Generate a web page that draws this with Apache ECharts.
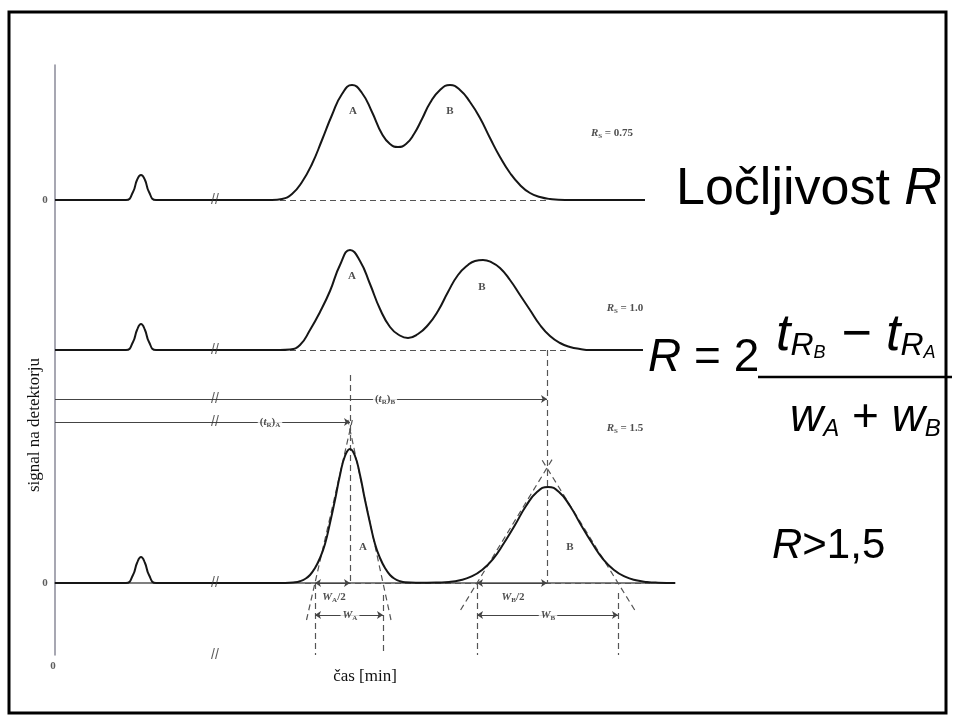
<!DOCTYPE html>
<html><head><meta charset="utf-8">
<script src="https://cdn.jsdelivr.net/npm/echarts@6/dist/echarts.min.js"></script>
<style>html,body{margin:0;padding:0;background:#fff}#c{width:954px;height:722px}</style>
</head><body><div id="c"></div>
<script>
const SERIF = "'Liberation Serif','DejaVu Serif',serif";
const SANS = "'Liberation Sans',Arial,Helvetica,sans-serif";

// ---- trace values (time units, signal above each trace's own baseline) ----
const topTime   = [0, 7.1, 7.8, 8.2, 8.6, 9.0, 9.4, 10.1, 21.7, 22.7, 23.7, 24.7, 25.7, 26.7, 27.7, 28.7, 29.7, 30.7, 31.7, 32.7, 33.5, 34.3, 35.1, 35.9, 36.7, 37.5, 38.5, 39.5, 40.5, 41.5, 42.5, 43.5, 44.5, 45.5, 46.5, 47.5, 48.5, 49.5, 51.0, 59.0];
const topSignal = [0, 0, 0.8, 2.0, 2.5, 2.0, 0.8, 0, 0, 0.1, 0.6, 1.8, 3.6, 6.0, 8.5, 10.6, 11.5, 10.7, 8.8, 6.6, 5.6, 5.3, 5.6, 6.6, 8.1, 9.7, 11.0, 11.5, 11.0, 9.8, 8.2, 6.2, 4.3, 2.7, 1.5, 0.7, 0.3, 0.1, 0, 0];
const midTime   = [0, 7.1, 7.8, 8.2, 8.6, 9.0, 9.4, 10.1, 22.5, 23.5, 24.5, 25.5, 26.5, 27.5, 28.5, 29.5, 30.5, 31.5, 32.5, 33.5, 34.4, 35.3, 36.3, 37.3, 38.3, 39.3, 40.3, 41.3, 42.0, 42.8, 43.6, 44.5, 45.5, 46.5, 47.5, 48.5, 49.5, 50.5, 51.5, 52.5, 53.5, 58.8];
const midSignal = [0, 0, 0.8, 2.0, 2.6, 2.0, 0.8, 0, 0, 0.05, 0.5, 2.0, 3.8, 5.9, 8.5, 10.0, 8.9, 6.6, 4.1, 2.3, 1.5, 1.2, 1.6, 2.5, 3.9, 5.8, 7.5, 8.5, 8.9, 9.0, 8.8, 8.2, 7.0, 5.5, 4.0, 2.5, 1.4, 0.7, 0.3, 0.1, 0, 0];
const botTime   = [0, 7.1, 7.8, 8.2, 8.6, 9.0, 9.4, 10.1, 23.0, 24.0, 24.5, 25.0, 25.5, 26.0, 26.5, 27.0, 27.5, 28.0, 28.5, 29.0, 29.5, 30.0, 30.5, 31.0, 31.5, 32.0, 32.5, 33.0, 33.5, 34.0, 34.5, 35.0, 36.1, 37.2, 38.3, 39.4, 40.5, 41.6, 42.7, 43.8, 44.9, 46.0, 47.1, 48.2, 49.3, 50.4, 51.5, 52.6, 53.7, 54.8, 55.9, 57.0, 58.1, 59.2, 60.3, 62.0];
const botSignal = [0, 0, 0.8, 2.0, 2.6, 2.0, 0.8, 0, 0, 0.07, 0.18, 0.4, 0.8, 1.5, 2.5, 3.9, 6.0, 8.3, 10.8, 12.7, 13.4, 12.7, 10.8, 8.3, 6.0, 3.9, 2.5, 1.5, 0.8, 0.4, 0.18, 0.07, 0.03, 0.03, 0.05, 0.1, 0.27, 0.63, 1.3, 2.4, 4.0, 5.8, 7.7, 9.1, 9.6, 9.1, 7.7, 5.8, 4.0, 2.4, 1.3, 0.63, 0.27, 0.1, 0.03, 0];
const traceBaselines = [38.3, 23.3, 0];

// ---- annotation values ----
const dashedSegments = [
  [[22.5, 38.3], [49.5, 38.3]],
  [[23.5, 23.3], [51.5, 23.3]],
  [[25.0, 0], [59.5, 0]],
  [[29.5, 20.8], [29.5, 0]],
  [[49.2, 23.3], [49.2, 0]],
  [[26.0, 0], [26.0, -7.2]],
  [[32.8, -1.2], [32.8, -7.2]],
  [[42.2, 0], [42.2, -7.2]],
  [[56.3, -1.0], [56.3, -7.2]],
  [[25.15, -3.7], [29.73, 16.3]],
  [[33.6, -3.7], [29.29, 16.3]],
  [[40.56, -2.7], [49.8, 12.5]],
  [[57.97, -2.7], [48.58, 12.5]]
];
const arrowSegments = [
  [[0, 18.4], [49.2, 18.4], 'end'],
  [[0, 16.1], [29.5, 16.1], 'end'],
  [[26.0, 0], [29.5, 0], 'both'],
  [[26.0, -3.2], [32.8, -3.2], 'both'],
  [[42.2, 0], [49.2, 0], 'both'],
  [[42.2, -3.2], [56.3, -3.2], 'both']
];
const labelTime   = [29.8, 39.5, 29.7, 42.7, 30.8, 51.5, 55.7, 57.0, 57.0, 33.0, 21.5, 27.9, 29.5, 45.8, 49.3];
const labelSignal = [47.2, 47.2, 30.7, 29.6, 3.6, 3.6, 45.0, 27.5, 15.5, 18.4, 16.1, -1.4, -3.2, -1.4, -3.2];
const labelText   = ['A', 'B', 'A', 'B', 'A', 'B',
  '{i|R}{s|S}{n| = 0.75}', '{i|R}{s|S}{n| = 1.0}', '{i|R}{s|S}{n| = 1.5}',
  '{n|(}{i|t}{s|R}{n|)}{s|B}', '{n|(}{i|t}{s|R}{n|)}{s|A}',
  '{i|W}{s|A}{n|/2}', '{i|W}{s|A}', '{i|W}{s|B}{n|/2}', '{i|W}{s|B}'];
const breakTime = 16.0;
const breakSignal = [38.3, 23.3, 18.4, 16.1, 0, -7.2];
const zeroTime = [-1.0, -1.0, -0.2];
const zeroSignal = [38.3, 0, -8.3];

function trace(ts, ss, base) { return ts.map((t, i) => [t, +(ss[i] + base).toFixed(2)]); }

const richStyle = {
  n: {fontFamily: SERIF, fontSize: 11, color: '#222', lineHeight: 14},
  i: {fontFamily: SERIF, fontSize: 11, fontStyle: 'italic', color: '#222', lineHeight: 14},
  s: {fontFamily: SERIF, fontSize: 7, color: '#222', lineHeight: 9, verticalAlign: 'bottom'}
};

const lineSeries = [[topTime, topSignal], [midTime, midSignal], [botTime, botSignal]].map((p, k) => ({
  type: 'line', data: trace(p[0], p[1], traceBaselines[k]), smooth: 0.5, symbol: 'none',
  lineStyle: {color: '#161616', width: 2}, z: 5, silent: true
}));

const option = {
  animation: false,
  backgroundColor: '#fff',
  grid: {left: 55, right: 279, top: 65, bottom: 67},
  xAxis: {type: 'value', min: 0, max: 62, axisLine: {show: true, lineStyle: {color: '#555', width: 1.5}},
    axisTick: {show: false}, axisLabel: {show: false}, splitLine: {show: false},
    name: 'čas [min]', nameLocation: 'middle', nameGap: 13,
    nameTextStyle: {fontFamily: SERIF, fontSize: 17, color: '#111', verticalAlign: 'top'}},
  yAxis: {type: 'value', min: -7.2, max: 51.8, axisLine: {show: true, onZero: false, lineStyle: {color: '#8a8a98', width: 1.5}},
    axisTick: {show: false}, axisLabel: {show: false}, splitLine: {show: false}},
  series: [
    ...lineSeries,
    {type: 'lines', coordinateSystem: 'cartesian2d', silent: true, z: 3,
      lineStyle: {color: '#555', width: 1.2, type: [6, 4], opacity: 1},
      data: dashedSegments.map(s => ({coords: s}))},
    {type: 'lines', coordinateSystem: 'cartesian2d', silent: true, z: 4,
      lineStyle: {color: '#444', width: 1.2, opacity: 1}, symbolSize: 6,
      data: arrowSegments.map(s => ({coords: [s[0], s[1]], symbol: s[2] === 'both' ? ['arrow', 'arrow'] : ['none', 'arrow']}))},
    {type: 'scatter', clip: false, symbolSize: 0, silent: true, z: 10,
      data: labelTime.map((t, i) => ({value: [t, labelSignal[i]], label: {
        show: true, position: 'inside', formatter: labelText[i], rich: richStyle,
        fontFamily: SERIF, fontSize: 11, fontWeight: 'bold', color: '#222',
        backgroundColor: (i >= 9 && i !== 11 && i !== 13) ? '#fff' : 'transparent', padding: [0, 2]}}))},
    {type: 'scatter', clip: false, symbolSize: 0, silent: true, z: 10,
      data: breakSignal.map(y => ({value: [breakTime, y], label: {show: true, position: 'inside', formatter: '//',
        fontFamily: SANS, fontSize: 14, color: '#333'}}))},
    {type: 'scatter', clip: false, symbolSize: 0, silent: true, z: 10,
      data: zeroSignal.map((y, i) => ({value: [zeroTime[i], y], label: {show: true, position: 'inside', formatter: '0',
        fontFamily: SERIF, fontSize: 11, fontWeight: 'bold', color: '#333'}}))}
  ],
  graphic: [
    {type: 'rect', shape: {x: 9, y: 12, width: 937, height: 701}, style: {fill: 'none', stroke: '#000', lineWidth: 3}, z: 100},
    {type: 'text', x: 35, y: 425, rotation: Math.PI / 2, style: {text: 'signal na detektorju', font: "17px " + SERIF, fill: '#111', align: 'center', verticalAlign: 'middle'}},
    {type: 'text', x: 676, y: 190, style: {text: '{n|Ločljivost }{i|R}', verticalAlign: 'middle',
      rich: {n: {font: '52px ' + SANS, fill: '#000'}, i: {font: 'italic 52px ' + SANS, fill: '#000'}}}},
    {type: 'text', x: 648, y: 358, style: {text: '{i|R}{n| = 2}', verticalAlign: 'middle',
      rich: {n: {font: '46px ' + SANS, fill: '#000'}, i: {font: 'italic 46px ' + SANS, fill: '#000'}}}},
    {type: 'text', x: 776, y: 336, style: {text: '{t|t}{r|R}{b|B}{n|−}{t|t}{r|R}{b|A}', verticalAlign: 'middle',
      rich: {t: {font: 'italic 52px ' + SANS, fill: '#000', lineHeight: 52},
             r: {font: 'italic 32px ' + SANS, fill: '#000', lineHeight: 32, verticalAlign: 'bottom'},
             b: {font: 'italic 18px ' + SANS, fill: '#000', lineHeight: 16, verticalAlign: 'bottom'},
             n: {font: '52px ' + SANS, fill: '#000', lineHeight: 52, padding: [0, 14, 0, 16]}}}},
    {type: 'line', shape: {x1: 758, y1: 377, x2: 952, y2: 377}, style: {stroke: '#000', lineWidth: 2.5}},
    {type: 'text', x: 790, y: 418, style: {text: '{t|w}{r|A}{n| + }{t|w}{r|B}', verticalAlign: 'middle',
      rich: {t: {font: 'italic 46px ' + SANS, fill: '#000', lineHeight: 46},
             r: {font: 'italic 24px ' + SANS, fill: '#000', lineHeight: 28, verticalAlign: 'bottom'},
             n: {font: '46px ' + SANS, fill: '#000', lineHeight: 46}}}},
    {type: 'text', x: 772, y: 546, style: {text: '{i|R}{n|>1,5}', verticalAlign: 'middle',
      rich: {n: {font: '42px ' + SANS, fill: '#000'}, i: {font: 'italic 42px ' + SANS, fill: '#000'}}}}
  ]
};
const chart = echarts.init(document.getElementById('c'));
chart.setOption(option);
</script></body></html>
